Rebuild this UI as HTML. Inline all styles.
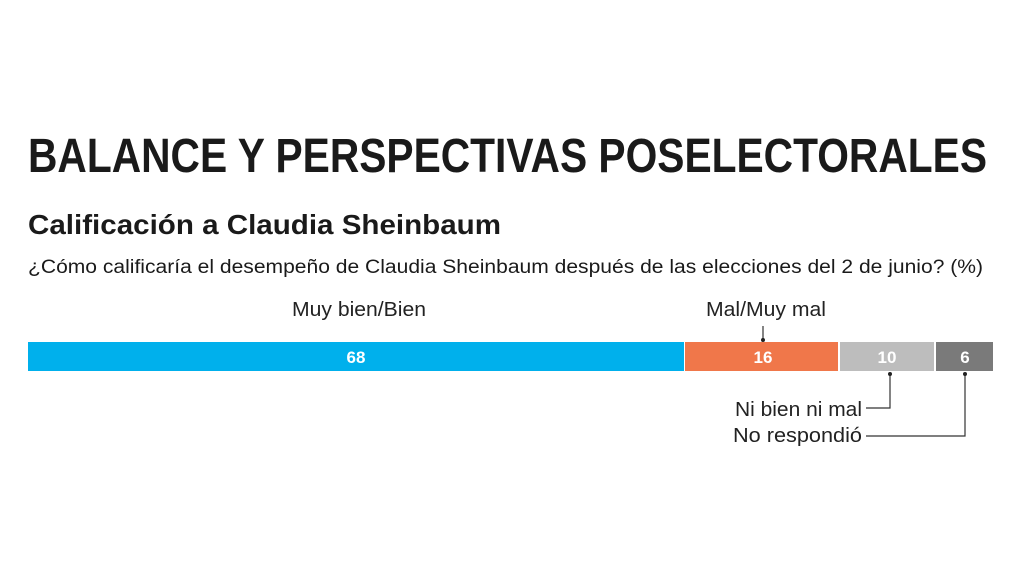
<!DOCTYPE html>
<html><head><meta charset="utf-8"><style>
html,body{margin:0;padding:0;background:#fff;}
svg{display:block;font-family:"Liberation Sans",sans-serif;}
</style></head><body>
<svg width="1024" height="577" viewBox="0 0 1024 577">
<rect width="1024" height="577" fill="#fff"/>
<text x="28" y="172" font-size="48" font-weight="bold" fill="#1a1a1a" textLength="959" lengthAdjust="spacingAndGlyphs">BALANCE Y PERSPECTIVAS POSELECTORALES</text>
<text x="28" y="234" font-size="28" font-weight="bold" fill="#1a1a1a" textLength="473" lengthAdjust="spacingAndGlyphs">Calificación a Claudia Sheinbaum</text>
<text x="28" y="273" font-size="19" fill="#1a1a1a" textLength="955" lengthAdjust="spacingAndGlyphs">¿Cómo calificaría el desempeño de Claudia Sheinbaum después de las elecciones del 2 de junio? (%)</text>
<rect x="28" y="342" width="656" height="29" fill="#00b0ec"/>
<rect x="685" y="342" width="153" height="29" fill="#f0774a"/>
<rect x="840" y="342" width="94" height="29" fill="#bdbdbd"/>
<rect x="936" y="342" width="57" height="29" fill="#7a7a7a"/>
<g font-size="17" font-weight="bold" fill="#fff" text-anchor="middle">
<text x="356" y="363">68</text><text x="763" y="363">16</text><text x="887" y="363">10</text><text x="965" y="363">6</text>
</g>
<g font-size="20" fill="#222">
<text x="292" y="316" textLength="134" lengthAdjust="spacingAndGlyphs">Muy bien/Bien</text>
<text x="706" y="316" textLength="120" lengthAdjust="spacingAndGlyphs">Mal/Muy mal</text>
<text x="735" y="416" textLength="127" lengthAdjust="spacingAndGlyphs">Ni bien ni mal</text>
<text x="733" y="442" textLength="129" lengthAdjust="spacingAndGlyphs">No respondió</text>
</g>
<g stroke="#333" stroke-width="1.2" fill="none">
<line x1="763" y1="326" x2="763" y2="340"/>
<polyline points="890,374 890,408 866,408"/>
<polyline points="965,374 965,436 866,436"/>
</g>
<g fill="#222"><circle cx="763" cy="340" r="2"/><circle cx="890" cy="374" r="2"/><circle cx="965" cy="374" r="2"/></g>
</svg>
</body></html>
